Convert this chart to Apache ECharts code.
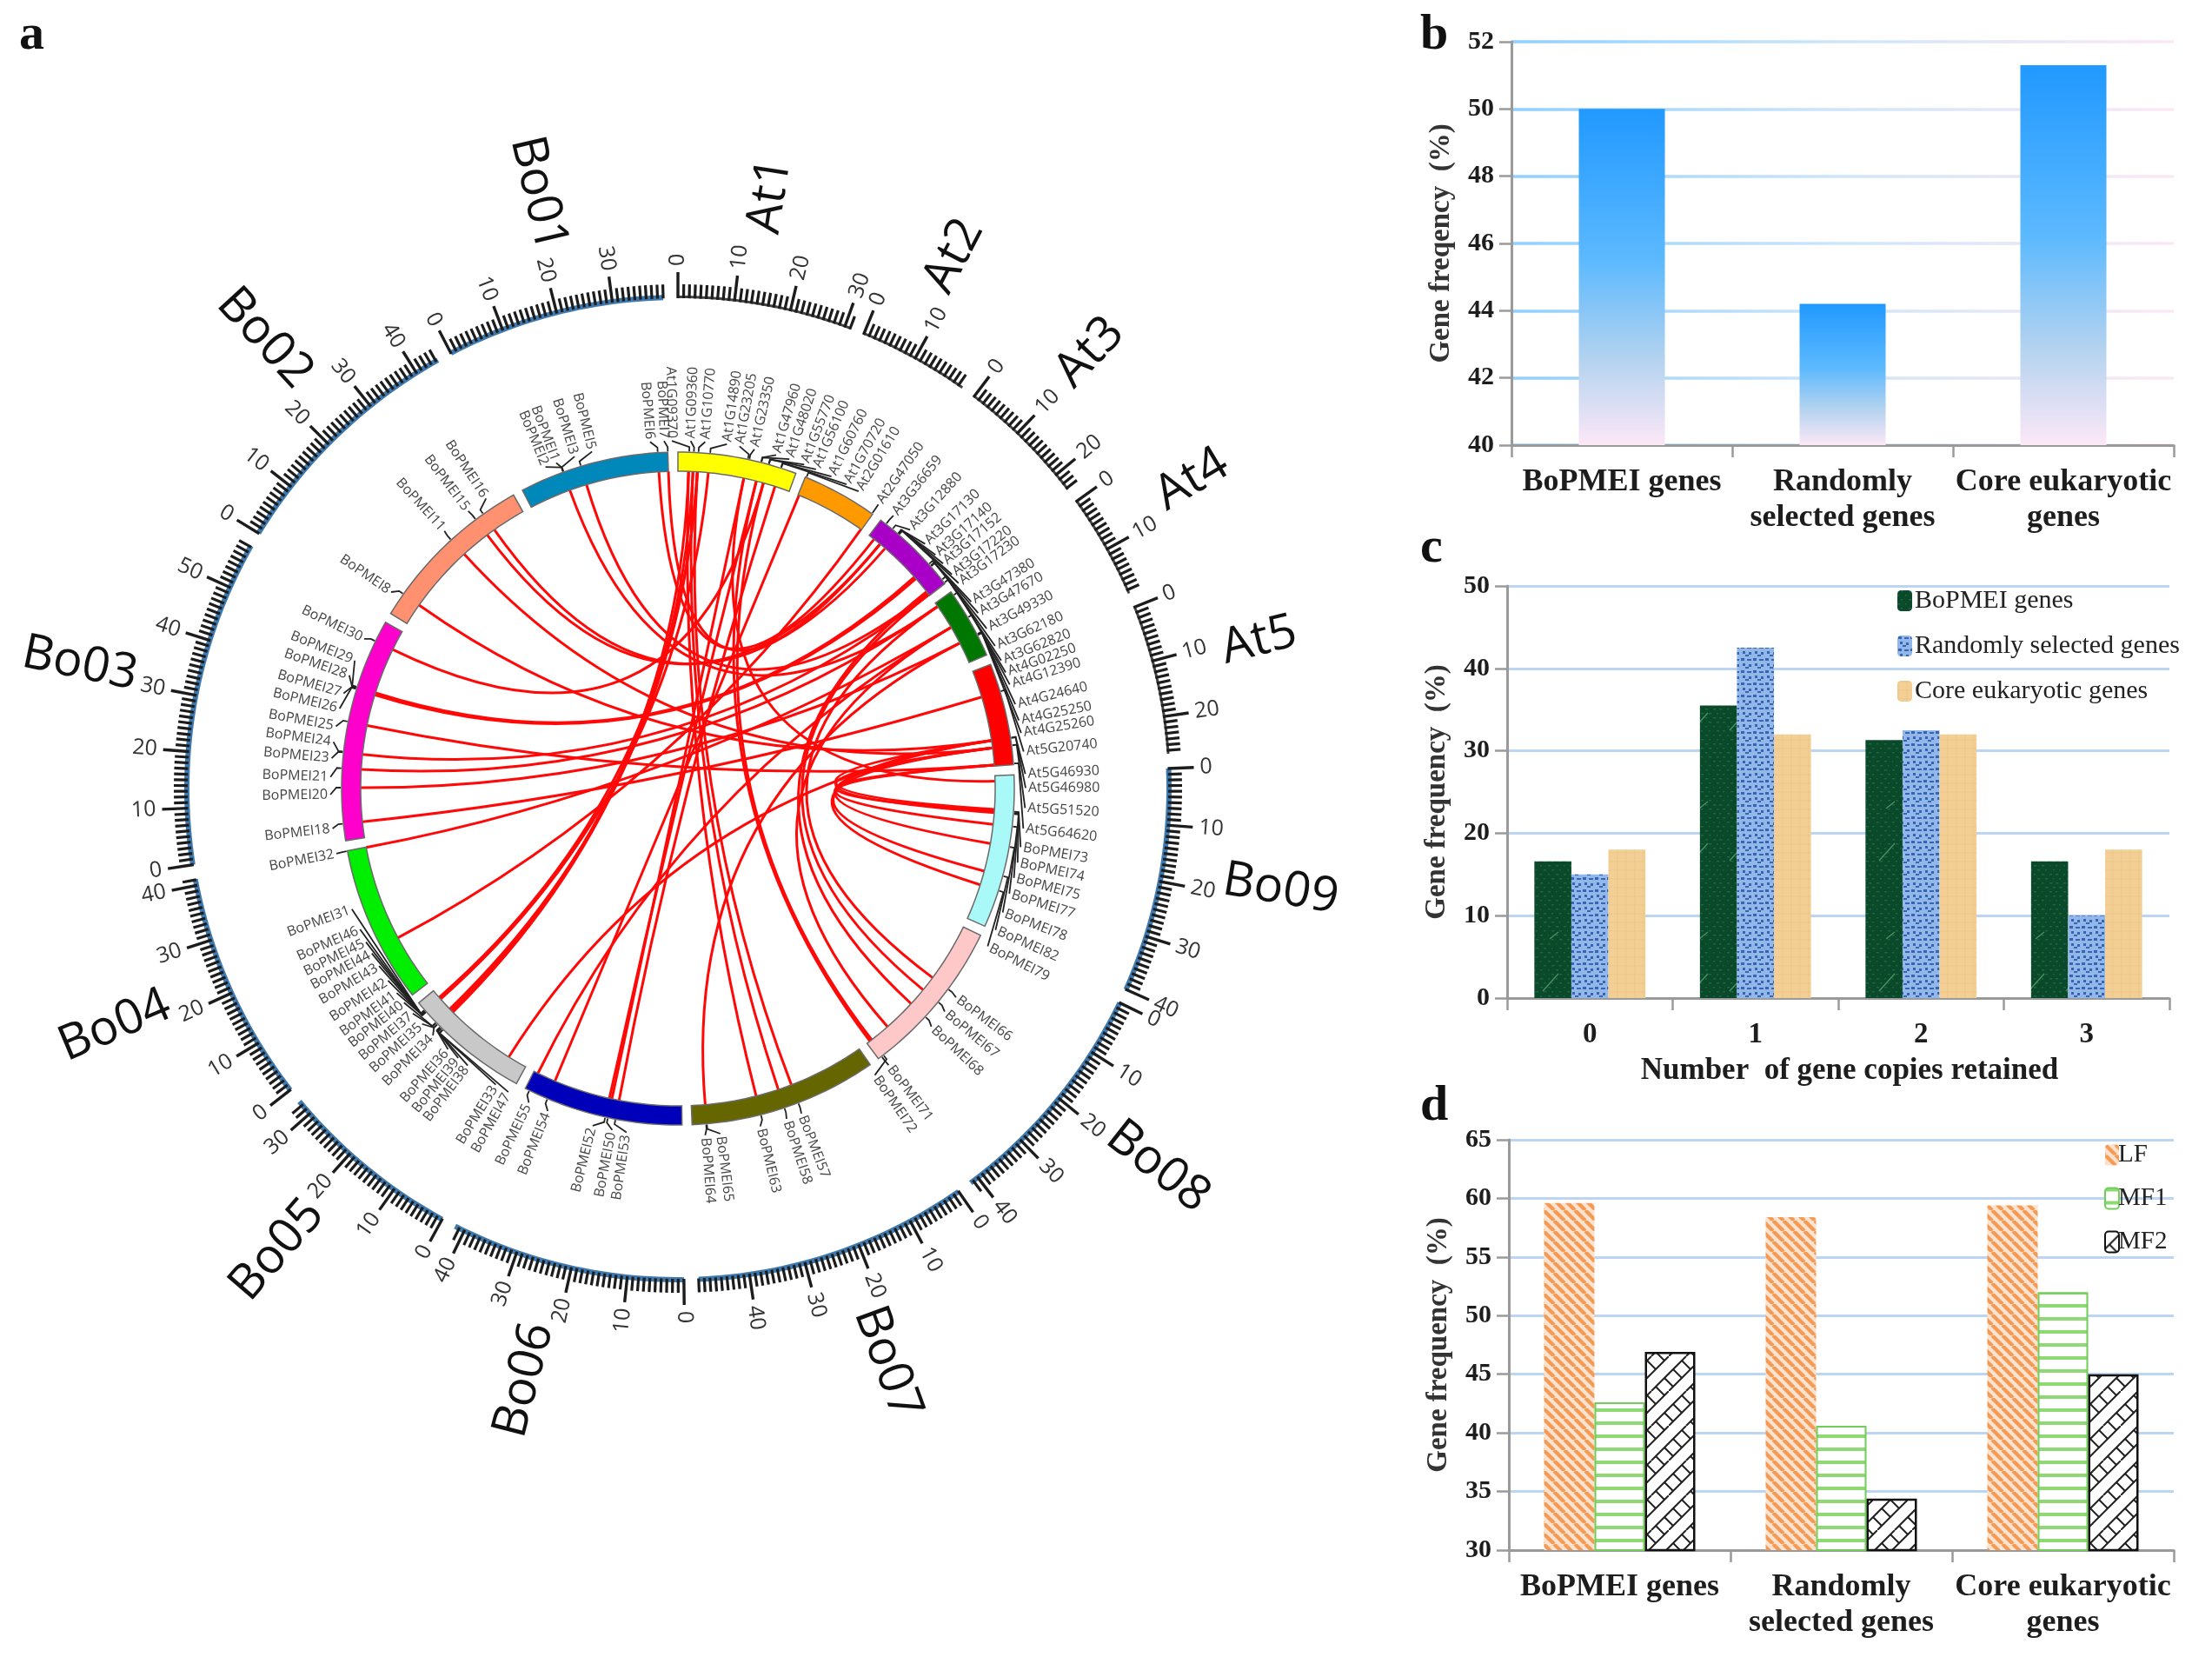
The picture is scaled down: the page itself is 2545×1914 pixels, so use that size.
<!DOCTYPE html>
<html><head><meta charset="utf-8">
<style>html,body{margin:0;padding:0;background:#fff}#c{width:2545px;height:1914px}</style>
<script src="https://cdn.jsdelivr.net/npm/echarts@6/dist/echarts.min.js"></script>
</head><body><div id="c"></div>
<script>
// ---------- panel a data ----------
const chromNames  = ['At1','At2','At3','At4','At5','Bo09','Bo08','Bo07','Bo06','Bo05','Bo04','Bo03','Bo02','Bo01'];
const chromMb     = [31,19.8,23.3,18.7,26.6,40,41.6,49,41.8,32.8,41.1,58.2,44.4,39];
const chromColors = ['#ffff00','#ff9900','#a900c8','#007700','#ff0000','#aaf9f9','#ffc8c8','#666600','#0000bb','#c8c8c8','#00ee00','#ff00cc','#ff9070','#0088bb'];
const links = [
['Bo05',25.5,'At1',2.9],['Bo05',24.9,'At1',4.1],['Bo05',26.1,'At1',5.3],['Bo05',30.4,'At1',5.3],['Bo05',29.8,'At1',8.3],
['Bo07',21,'At1',5.3],['Bo07',24.8,'At1',4.1],['Bo07',31.1,'At1',2.9],
['Bo06',19.9,'At1',21.6],['Bo06',19.2,'At1',18.1],['Bo06',17.2,'At1',26.9],
['Bo08',40.6,'At1',21.6],['Bo08',40,'At1',23.6],['Bo03',52.7,'At1',23.6],['Bo09',1.5,'At1',18.1],
['Bo06',35.5,'At2',0.3],['Bo04',14.8,'At2',19.6],
['Bo01',36.4,'At3',1.7],['Bo01',39,'At3',3.8],['Bo02',35.2,'At3',5.6],['Bo02',32.8,'At3',3.8],
['Bo03',39.4,'At3',17.4],['Bo03',40,'At3',16.8],['Bo01',16.3,'At3',22.5],['Bo08',20.4,'At3',23],['Bo08',25.4,'At3',22],
['Bo01',11.5,'At4',1.1],['Bo08',16.2,'At4',1.1],['Bo08',34.4,'At4',7.9],['Bo04',41,'At4',7.9],['Bo06',40.6,'At4',7.9],
['Bo03',13.7,'At4',12.8],['Bo07',45.2,'At4',12.8],['Bo03',18.7,'At4',1.1],['Bo03',22.8,'At3',23],
['Bo03',4.4,'At5',7.4],['Bo03',30.8,'At5',26.3],['Bo02',6,'At5',19.6],['Bo02',24.6,'At5',21.6],
['Bo09',9.7,'At5',26.3],['Bo09',9.2,'At5',19.6],['Bo09',10.1,'At5',21.6],['Bo09',13.3,'At5',26.3],
['Bo09',18.6,'At5',21.6],['Bo09',26.3,'At5',21.6],['Bo09',30.2,'At5',19.6],['Bo05',5.3,'At5',19.6]
];
// [gene label, chromosome, position in Mb, label direction in degrees clockwise from 12 o'clock]
const genes = [
['At1G09370','At1',2.9,359],['At1G09360','At1',4.1,2.1],['At1G10770','At1',5.3,4.5],['At1G14890','At1',8.3,8.1],
['At1G23205','At1',18.1,10.2],['At1G23350','At1',18.5,12.7],['At1G47960','At1',21.6,16.4],['At1G48020','At1',21.7,18.7],
['At1G55770','At1',23.6,21.3],['At1G56100','At1',23.7,23.4],['At1G60760','At1',26.9,26.2],['At1G70720','At1',27,29],
['At2G01610','At2',0.3,31.3],['At2G47050','At2',19.6,35.2],
['At3G36659','At3',1.7,38.3],['At3G12880','At3',3.8,41.9],['At3G17130','At3',5.6,45.3],['At3G17140','At3',5.7,47.8],
['At3G17152','At3',5.8,49.7],['At3G17220','At3',5.9,52],['At3G17230','At3',6,53.8],['At3G47380','At3',16.8,57.5],
['At3G47670','At3',17.4,59.7],['At3G49330','At3',17.6,62.6],['At3G62180','At3',22,65.8],['At3G62820','At3',23,68.4],
['At4G02250','At4',1.1,70.5],['At4G12390','At4',7.9,72.6],['At4G24640','At4',12.8,76],['At4G25250','At4',13,78.7],['At4G25260','At4',13.1,80.8],
['At5G20740','At5',7.4,83.9],['At5G46930','At5',19.6,87.6],['At5G46980','At5',19.7,89.9],['At5G51520','At5',21.6,93.2],['At5G64620','At5',26.3,96.6],
['BoPMEI73','Bo09',9.5,99.7],['BoPMEI74','Bo09',9.8,102.3],['BoPMEI75','Bo09',10.1,104.9],['BoPMEI77','Bo09',13.3,107.6],
['BoPMEI78','Bo09',18.6,110.9],['BoPMEI82','Bo09',26.3,114],['BoPMEI79','Bo09',30.2,117],
['BoPMEI66','Bo08',16.2,126.9],['BoPMEI67','Bo08',20.4,129.9],['BoPMEI68','Bo08',25.4,133.2],['BoPMEI71','Bo08',40.6,142.7],['BoPMEI72','Bo08',40,145.5],
['BoPMEI57','Bo07',21,159.2],['BoPMEI58','Bo07',24.8,161.8],['BoPMEI63','Bo07',31.1,166.3],['BoPMEI65','Bo07',45.2,173],['BoPMEI64','Bo07',45.4,175.5],
['BoPMEI53','Bo06',17.2,188.5],['BoPMEI50','Bo06',19.2,190.9],['BoPMEI52','Bo06',19.9,194.2],['BoPMEI54','Bo06',35.5,202],['BoPMEI55','Bo06',40.6,205.4],
['BoPMEI47','Bo05',23.5,209.2],['BoPMEI33','Bo05',23.5,211.6],['BoPMEI38','Bo05',24,217.2],['BoPMEI39','Bo05',24.2,219.2],['BoPMEI36','Bo05',24.5,221.4],
['BoPMEI34','Bo05',25.5,224.8],['BoPMEI35','Bo05',25.5,227.4],['BoPMEI37','Bo05',26,229.7],['BoPMEI40','Bo05',26.1,232],['BoPMEI41','Bo05',29.8,234],
['BoPMEI42','Bo05',29.8,236.5],['BoPMEI43','Bo05',30,239.3],['BoPMEI44','Bo05',30,241.7],['BoPMEI45','Bo05',30.2,243.8],['BoPMEI46','Bo05',30.4,246.1],['BoPMEI31','Bo05',30.4,249.7],
['BoPMEI32','Bo04',41,259.2],['BoPMEI18','Bo03',4.4,263.4],['BoPMEI20','Bo03',13.7,269],['BoPMEI21','Bo03',18.7,271.9],['BoPMEI23','Bo03',22.8,275],
['BoPMEI24','Bo03',23,277.7],['BoPMEI25','Bo03',30.8,280.3],['BoPMEI26','Bo03',39.4,283.3],['BoPMEI27','Bo03',39.6,285.9],['BoPMEI28','Bo03',39.8,289],['BoPMEI29','Bo03',40,291.6],['BoPMEI30','Bo03',52.7,295.5],
['BoPMEI8','Bo02',6,304.4],['BoPMEI11','Bo02',24.6,317.8],['BoPMEI15','Bo02',32.8,322.9],['BoPMEI16','Bo02',35.2,326.5],
['BoPMEI2','Bo01',11.5,337.6],['BoPMEI1','Bo01',11.5,339.5],['BoPMEI3','Bo01',11.6,342.7],['BoPMEI5','Bo01',16.3,345.7],['BoPMEI6','Bo01',36.4,355.4],['BoPMEI7','Bo01',39,357.7]
];
// ---------- panels b, c, d data ----------
const geneSets = ['BoPMEI genes','Randomly\nselected genes','Core eukaryotic\ngenes'];
const freqB = [50,44.2,51.3];
const copies = ['0','1','2','3'];
const copyBo = [16.6,35.5,31.3,16.6];
const copyRandom = [15,42.5,32.5,10];
const copyCore = [18,32,32,18];
const tissueLF = [59.6,58.4,59.4];
const tissueMF1 = [42.6,40.6,52];
const tissueMF2 = [46.9,34.4,45];

// ---------- layout of the genome axis ----------
const GAP = 2.6;
const chromStart = {}; let total = 0;
chromNames.forEach((n,i)=>{chromStart[n]=total; total+=chromMb[i]+GAP;});
const pos = (c,mb)=>chromStart[c]+mb;
const degToAxis = d => (d/360)*total;
const R_IN=365, R_OUT=387, R_TICK=564, R_SHORT=580, R_LONG=594, R_LABEL=403;
const SANS='"Open Sans",sans-serif', SERIF='"Liberation Serif",serif';

function radialText(api,r,axisVal,text,size,color,mode){
  const deg=axisVal/total*360, p=api.coord([r,axisVal]), right=deg<180;
  const rot=(right?90-deg:270-deg)*Math.PI/180;
  return {type:'text',x:p[0],y:p[1],rotation:rot,silent:true,
    style:{text,x:0,y:0,fill:color,font:size+'px '+SANS,
      align:mode==='center'?'center':(right?'left':'right'),verticalAlign:'middle'}};
}
function arcPoly(api,r0,r1,a0,a1){
  const n=Math.max(2,Math.ceil((a1-a0)/1.5)),pts=[];
  for(let i=0;i<=n;i++)pts.push(api.coord([r1,a0+(a1-a0)*i/n]));
  for(let i=n;i>=0;i--)pts.push(api.coord([r0,a0+(a1-a0)*i/n]));
  return pts;
}
// tick list
const ticks=[];
chromNames.forEach((n,ci)=>{for(let m=0;m<=Math.floor(chromMb[ci]);m++)ticks.push([ci,m]);});

// ---------- patterns ----------
function tile(w,h,draw){const c=document.createElement('canvas');c.width=w;c.height=h;draw(c.getContext('2d'));return c;}
const patLF=tile(12,12,g=>{g.fillStyle='#fde3cf';g.fillRect(0,0,12,12);g.strokeStyle='#f39a55';g.lineWidth=4.2;
  for(let i=-12;i<=24;i+=12){g.beginPath();g.moveTo(i,0);g.lineTo(i+12,12);g.stroke();}});
const patMF1=tile(12,15,g=>{g.fillStyle='#fff';g.fillRect(0,0,12,15);g.fillStyle='#8fd975';g.fillRect(0,0,12,4);});
const patMF2=tile(40,40,g=>{g.fillStyle='#fff';g.fillRect(0,0,40,40);g.strokeStyle='#222';g.lineWidth=2;
  [[0,40,40,0],[-20,40,20,0],[20,40,60,0]].forEach(s=>{g.beginPath();g.moveTo(s[0],s[1]);g.lineTo(s[2],s[3]);g.stroke();});
  [[5,15,15,25],[25,35,35,45],[25,-5,35,5],[-15,15,-5,25],[15,5,25,15],[35,25,45,35],[-5,25,5,35]].forEach(s=>{g.beginPath();g.moveTo(s[0],s[1]);g.lineTo(s[2],s[3]);g.stroke();});});
const patGreen=tile(43,150,g=>{g.fillStyle='#0a4a2a';g.fillRect(0,0,43,150);
  g.fillStyle='rgba(50,130,85,.5)';for(let y=0;y<150;y+=5)for(let x=(y%10?0:4);x<43;x+=9){const s=Math.sin(x*1.3+y*.7);g.fillRect(x,y,1+2.5*Math.abs(s),1.5);}
  g.strokeStyle='rgba(120,200,150,.55)';g.lineWidth=1.5;g.beginPath();g.moveTo(12,90);g.lineTo(30,70);g.moveTo(20,30);g.lineTo(30,22);g.stroke();});
const patBlue=tile(14,14,g=>{g.fillStyle='#92b7e8';g.fillRect(0,0,14,14);g.fillStyle='#3566b5';
  [[1,1,4,3],[8,2,5,2],[3,7,3,3],[10,8,3,3],[6,11,4,2]].forEach(r=>g.fillRect(r[0],r[1],r[2],r[3]));});
const patTan=tile(10,10,g=>{g.fillStyle='#f4cf95';g.fillRect(0,0,10,10);g.fillStyle='rgba(232,196,130,.4)';g.fillRect(0,0,10,1.5);g.fillRect(0,0,1.5,10);});

// ---------- grids ----------
const gridB={left:1739,width:762,top:48,height:464};
const gridC={left:1734,width:762,top:674,height:474};
const gridD={left:1736,width:765,top:1311,height:472};
const axisLine={lineStyle:{color:'#9a9a9a',width:3}};
const axisTick={show:true,length:14,lineStyle:{color:'#9a9a9a',width:2.5}};
const axisLab={fontFamily:SERIF,fontWeight:'bold',color:'#1d1d1d'};
function yAxis(gi,min,max,interval,split,name){
  return {gridIndex:gi,type:'value',min,max,interval,axisLine:{show:true,...axisLine},axisTick,
    axisLabel:{...axisLab,fontSize:30,margin:20},
    name,nameLocation:'middle',nameGap:64,nameRotate:90,
    nameTextStyle:{fontFamily:SERIF,fontWeight:'bold',fontSize:33,color:'#333'},
    splitLine:{show:true,lineStyle:split}};
}
function xAxis(gi,data,extra){
  return Object.assign({gridIndex:gi,type:'category',data,axisLine,axisTick:{...axisTick,alignWithLabel:false},
    axisLabel:{...axisLab,fontSize:36,lineHeight:41,margin:22,interval:0}},extra||{});
}
const gradB={type:'linear',x:gridB.left,y:0,x2:gridB.left+gridB.width,y2:0,global:true,
  colorStops:[{offset:0,color:'#8fcfff'},{offset:.5,color:'#cfe6f8'},{offset:1,color:'#fce8f4'}]};
const barGrad={type:'linear',x:0,y:0,x2:0,y2:1,colorStops:[{offset:0,color:'#2199ff'},{offset:.45,color:'#5cb9fe'},{offset:.75,color:'#b5d3ef'},{offset:1,color:'#fce8f7'}]};
const pat=(image)=>({image,repeat:'repeat'});

const option={
  animation:false,backgroundColor:'#fff',
  polar:{center:[780,907],radius:600},
  angleAxis:{type:'value',min:0,max:total,startAngle:90,clockwise:true,show:false},
  radiusAxis:{type:'value',min:0,max:600,show:false},
  grid:[gridB,gridC,gridD],
  xAxis:[xAxis(0,geneSets),
    xAxis(1,copies,{name:'Number  of gene copies retained',nameLocation:'middle',nameGap:66,
      nameTextStyle:{fontFamily:SERIF,fontWeight:'bold',fontSize:35,color:'#1d1d1d',padding:[0,0,0,26]},
      axisLabel:{...axisLab,fontSize:33,margin:26}}),
    xAxis(2,geneSets)],
  yAxis:[yAxis(0,40,52,2,{color:gradB,width:3.5},'Gene freqency  (%)'),
    yAxis(1,0,50,10,{color:'#bcd5f2',width:3},'Gene frequency  (%)'),
    yAxis(2,30,65,5,{color:'#bcd5f2',width:3},'Gene frequency  (%)')],
  legend:[
    {data:['BoPMEI genes','Randomly selected genes','Core eukaryotic genes'],left:2178,top:671,orient:'vertical',itemGap:22,itemWidth:17,itemHeight:24,selectedMode:false,
     textStyle:{fontFamily:SERIF,fontSize:30,color:'#222',padding:[0,0,0,-2]}},
    {data:['LF','MF1','MF2'],left:2416,top:1309,orient:'vertical',itemGap:21,itemWidth:16,itemHeight:24,selectedMode:false,
     textStyle:{fontFamily:SERIF,fontSize:29,color:'#222',padding:[0,0,0,-6]}}
  ],
  graphic:[
    ...[['a',22,12],['b',1634,12],['c',1634,602],['d',1634,1244]].map(t=>({type:'text',left:t[1],top:t[2],
      style:{text:t[0],font:'bold 58px '+SERIF,fill:'#111'}}))
  ],
  series:[
    // links
    {type:'custom',coordinateSystem:'polar',z:2,silent:true,
     data:links.map(l=>[R_IN,pos(l[0],l[1]),R_IN,pos(l[2],l[3])]),
     encode:{radius:0,angle:1},
     renderItem:(p,api)=>{const a=api.coord([api.value(0),api.value(1)]),b=api.coord([api.value(2),api.value(3)]),c=api.coord([0,0]);
       return {type:'bezierCurve',shape:{x1:a[0],y1:a[1],x2:b[0],y2:b[1],cpx1:c[0],cpy1:c[1]},
         style:{fill:null,stroke:'#ff0808',lineWidth:3}};}},
    // chromosome bars
    {type:'custom',coordinateSystem:'polar',z:3,silent:true,
     data:chromNames.map((n,i)=>[R_OUT,chromStart[n],chromMb[i],i]),encode:{radius:0,angle:1},
     renderItem:(p,api)=>{const a=api.value(1),l=api.value(2),i=api.value(3);
       return {type:'polygon',shape:{points:arcPoly(api,R_IN,R_OUT,a,a+l)},style:{fill:chromColors[i],stroke:'#6a6a6a',lineWidth:1.5}};}},
    // outer ring base line (Bo chromosomes only) and chromosome names
    {type:'custom',coordinateSystem:'polar',z:3,silent:true,
     data:chromNames.map((n,i)=>[R_TICK,chromStart[n],chromMb[i],i]),encode:{radius:0,angle:1},
     renderItem:(p,api)=>{const a=api.value(1),l=api.value(2),i=api.value(3),n=chromNames[i],isBo=n[0]==='B';
       const ch=[];
       if(isBo)ch.push({type:'polygon',shape:{points:arcPoly(api,R_TICK-2,R_TICK+4,a,a+l)},style:{fill:'#3f79ad',stroke:null}});
       else ch.push({type:'polygon',shape:{points:arcPoly(api,R_TICK,R_TICK+3,a,a+l)},style:{fill:'#444',stroke:null}});
       const mid=a+l/2,deg=mid/total*360,off=(deg<180?-1.4:1.4);
       ch.push(radialText(api,isBo?703:690,degToAxis(deg+off),n,56,'#111','center'));
       return {type:'group',children:ch};}},
    // ticks
    {type:'custom',coordinateSystem:'polar',z:4,silent:true,
     data:ticks.map(t=>[R_TICK,chromStart[chromNames[t[0]]]+t[1],t[0],t[1]]),encode:{radius:0,angle:1},
     renderItem:(p,api)=>{const v=api.value(1),mb=api.value(3),major=mb%10===0;
       const s=api.coord([R_TICK,v]),e=api.coord([major?R_LONG:R_SHORT,v]);
       const ch=[{type:'line',shape:{x1:s[0],y1:s[1],x2:e[0],y2:e[1]},style:{stroke:'#1c1c1c',lineWidth:major?3.4:3.2}}];
       if(major)ch.push(radialText(api,R_LONG+7,v,String(mb),25,'#333'));
       return {type:'group',children:ch};}},
    // gene labels and leaders
    {type:'custom',coordinateSystem:'polar',z:5,silent:true,
     data:genes.map((g,i)=>[R_OUT,pos(g[1],g[2]),degToAxis(g[3]),i]),encode:{radius:0,angle:1},
     renderItem:(p,api)=>{const v=api.value(1),t=api.value(2),i=api.value(3);
       const pts=[api.coord([R_OUT+1,v]),api.coord([R_OUT+6,v]),api.coord([R_LABEL-3,t])];
       return {type:'group',children:[
         {type:'polyline',shape:{points:pts},style:{fill:null,stroke:'#222',lineWidth:1.8}},
         radialText(api,R_LABEL,t,genes[i][0],16,'#444')]};}},
    // panel b
    {name:'Gene frequency',type:'bar',xAxisIndex:0,yAxisIndex:0,data:freqB,barWidth:99,itemStyle:{color:barGrad}},
    // panel c
    {name:'BoPMEI genes',type:'bar',xAxisIndex:1,yAxisIndex:1,data:copyBo,barWidth:42.6,barGap:0,itemStyle:{color:pat(patGreen)}},
    {name:'Randomly selected genes',type:'bar',xAxisIndex:1,yAxisIndex:1,data:copyRandom,barWidth:42.6,barGap:0,itemStyle:{color:pat(patBlue)}},
    {name:'Core eukaryotic genes',type:'bar',xAxisIndex:1,yAxisIndex:1,data:copyCore,barWidth:42.6,barGap:0,itemStyle:{color:pat(patTan)}},
    // panel d
    {name:'LF',type:'bar',xAxisIndex:2,yAxisIndex:2,data:tissueLF,barWidth:58,barGap:0,itemStyle:{color:pat(patLF)}},
    {name:'MF1',type:'bar',xAxisIndex:2,yAxisIndex:2,data:tissueMF1,barWidth:58,barGap:0,itemStyle:{color:pat(patMF1),borderColor:'#6fce55',borderWidth:2}},
    {name:'MF2',type:'bar',xAxisIndex:2,yAxisIndex:2,data:tissueMF2,barWidth:58,barGap:0,itemStyle:{color:pat(patMF2),borderColor:'#111',borderWidth:2.5}}
  ]
};
echarts.init(document.getElementById('c'),null,{renderer:'canvas',width:2545,height:1914}).setOption(option);
</script></body></html>
